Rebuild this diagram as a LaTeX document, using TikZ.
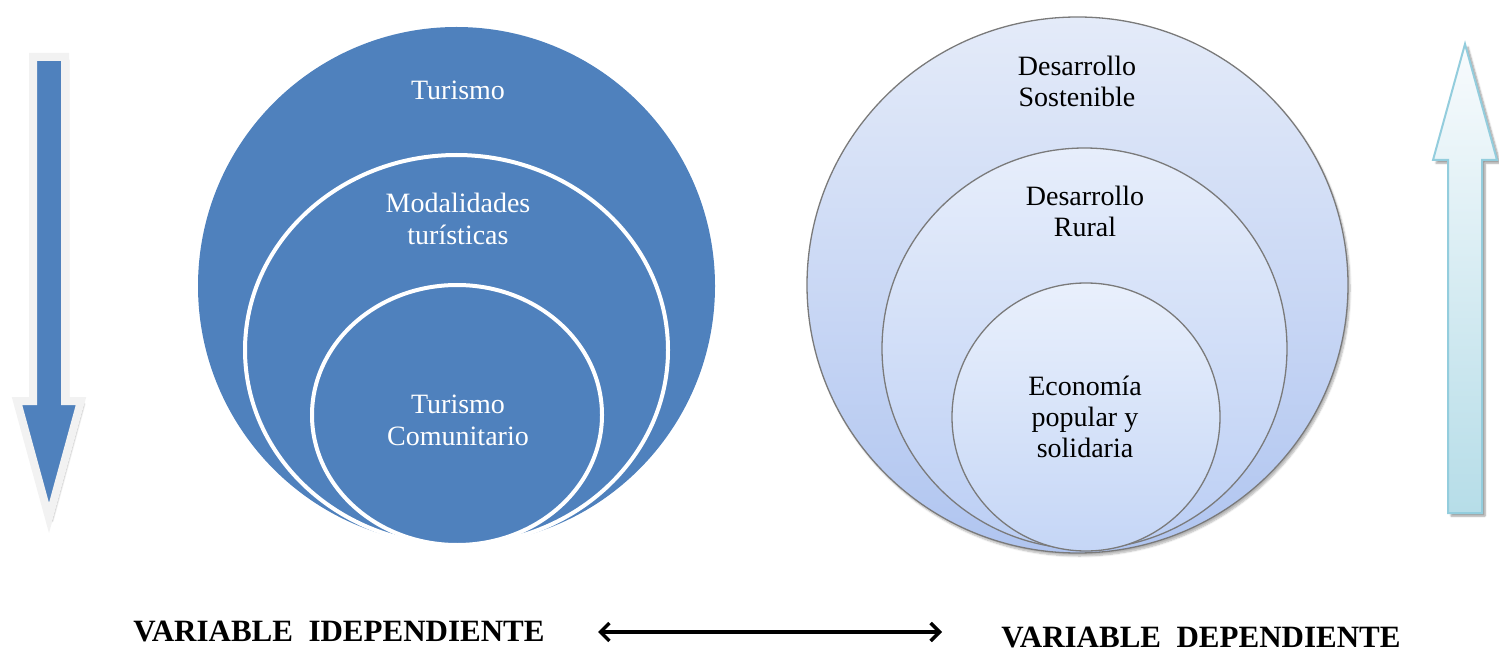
\documentclass[tikz,border=0pt]{standalone}
\usepackage{fontspec}
\setmainfont{Liberation Serif}
\usetikzlibrary{shapes.geometric,arrows.meta,shadows.blur}
\definecolor{ofblue}{HTML}{4F81BD}
\definecolor{arrowrim}{HTML}{F2F2F2}
\definecolor{lbtop}{HTML}{F8FBFD}
\definecolor{lbbot}{HTML}{B6DDE8}
\definecolor{lbline}{HTML}{93CDDD}
\definecolor{rimgray}{HTML}{7A7A7A}
\tikzset{
  bluecirc/.style={ellipse, inner sep=0pt, fill=ofblue},
  whiterim/.style={draw=white, line width=4pt},
  palecirc/.style={ellipse, inner sep=0pt, draw=rimgray, line width=1.3pt, shading=axis},
  wtxt/.style={text=white, align=center, font=\fontsize{28}{32}\selectfont},
  btxt/.style={text=black, align=center, font=\fontsize{28}{31}\selectfont},
  vlabel/.style={font=\fontsize{31}{36}\selectfont\bfseries, anchor=base, inner sep=1pt},
}
\begin{document}
\begin{tikzpicture}[x=1pt,y=-1pt]
\useasboundingbox (0,0) rectangle (1499,652);
% left arrow
\draw[fill=ofblue, draw=arrowrim, line width=8pt, miter limit=10,
      blur shadow={shadow xshift=3pt, shadow yshift=-3pt, shadow blur steps=6, shadow opacity=40}]
  (33,57) -- (65,57) -- (65,401) -- (81,401) -- (49,518) -- (17,401) -- (33,401) -- cycle;
% right arrow
\draw[top color=lbtop, bottom color=lbbot, draw=lbline, line width=2pt,
      blur shadow={shadow xshift=3pt, shadow yshift=-3pt, shadow blur steps=5, shadow opacity=40}]
  (1465,44) -- (1497,160) -- (1482,160) -- (1482,513) -- (1448,513) -- (1448,160) -- (1433,160) -- cycle;
% left circles
\node[bluecirc, minimum width=517pt, minimum height=518pt] (t1) at (456.5,286) {};
\node[bluecirc, whiterim, minimum width=423pt, minimum height=390pt] (t2) at (456.5,350) {};
\node[bluecirc, whiterim, minimum width=290pt, minimum height=260pt] (t3) at (457,415) {};
\node[wtxt] (t1l) at (458,90) {Turismo};
\node[wtxt] (t2l) at (458,219) {Modalidades\\turísticas};
\node[wtxt] (t3l) at (458,420) {Turismo\\Comunitario};
% right circles
\node[palecirc, minimum width=541pt, minimum height=536pt,
      top color={rgb,255:red,228;green,235;blue,249}, bottom color={rgb,255:red,176;green,197;blue,240},
      blur shadow={shadow xshift=2pt, shadow yshift=-3pt, shadow blur steps=6, shadow opacity=30}] (d1) at (1077.5,285) {};
\node[palecirc, minimum width=405pt, minimum height=401pt,
      top color={rgb,255:red,231;green,238;blue,251}, bottom color={rgb,255:red,187;green,206;blue,244}] (d2) at (1084.5,348.5) {};
\node[palecirc, minimum width=268pt, minimum height=268pt,
      top color={rgb,255:red,233;green,240;blue,252}, bottom color={rgb,255:red,197;green,214;blue,246}] (d3) at (1086,417) {};
\node[btxt] (d1l) at (1077,81) {Desarrollo\\Sostenible};
\node[btxt] (d2l) at (1085,211) {Desarrollo\\Rural};
\node[btxt] (d3l) at (1085,417) {Economía\\popular y\\solidaria};
% bottom labels
\node[vlabel] (vi) at (339,641) {VARIABLE\ \ IDEPENDIENTE};
\node[vlabel] (vd) at (1201,647) {VARIABLE\ \ DEPENDIENTE};
\coordinate (al) at (598,632);
\coordinate (ar) at (942,632);
\draw[line width=3.5pt, {Straight Barb[length=9pt,width=18pt,line width=3.5pt]}-{Straight Barb[length=9pt,width=18pt,line width=3.5pt]}] (al) -- (ar);
\end{tikzpicture}
\end{document}
